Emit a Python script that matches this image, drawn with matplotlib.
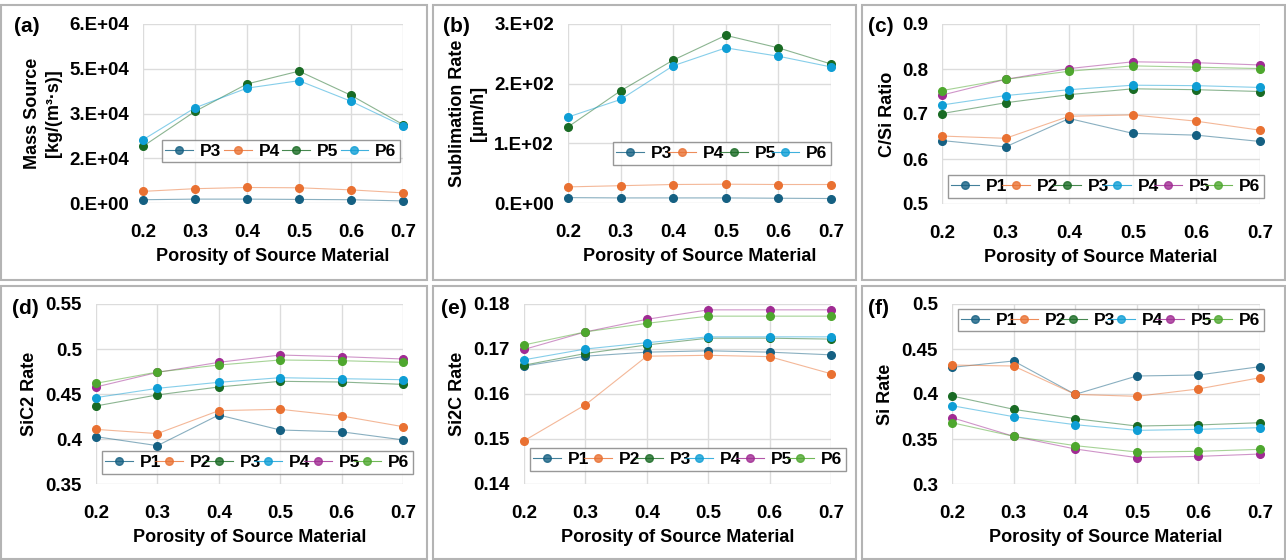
import matplotlib

matplotlib.use("Agg")
import matplotlib.pyplot as plt
from matplotlib.patches import Rectangle

plt.rcParams["font.family"] = ["Liberation Sans", "DejaVu Sans"]
plt.rcParams["font.weight"] = "bold"
plt.rcParams["axes.labelweight"] = "bold"

# ---- data ----
porosity = [0.2, 0.3, 0.4, 0.5, 0.6, 0.7]

mass_P3 = [1100, 1300, 1300, 1200, 1100, 700]
mass_P4 = [3900, 4800, 5200, 5100, 4400, 3400]
mass_P5 = [19000, 30700, 39900, 44200, 36100, 26300]
mass_P6 = [21200, 31900, 38500, 41000, 34100, 25800]

subl_P3 = [9.0, 8.5, 8.5, 8.5, 8.0, 7.5]
subl_P4 = [27, 29, 31, 31.5, 31, 31]
subl_P5 = [127.5, 188, 239.5, 281, 260, 233]
subl_P6 = [144, 173.5, 230, 260, 246, 228]

csi_P1 = [0.641, 0.627, 0.690, 0.657, 0.653, 0.639]
csi_P2 = [0.651, 0.646, 0.695, 0.698, 0.684, 0.664]
csi_P3 = [0.701, 0.725, 0.743, 0.756, 0.754, 0.750]
csi_P4 = [0.720, 0.741, 0.754, 0.764, 0.763, 0.759]
csi_P5 = [0.742, 0.777, 0.801, 0.816, 0.814, 0.809]
csi_P6 = [0.752, 0.777, 0.795, 0.807, 0.804, 0.801]

sic2_P1 = [0.4026, 0.3926, 0.4267, 0.4100, 0.4080, 0.3990]
sic2_P2 = [0.4107, 0.4060, 0.4315, 0.4330, 0.4256, 0.4137]
sic2_P3 = [0.4367, 0.4490, 0.4578, 0.4641, 0.4633, 0.4607]
sic2_P4 = [0.4460, 0.4563, 0.4630, 0.4681, 0.4670, 0.4659]
sic2_P5 = [0.4578, 0.4740, 0.4852, 0.4933, 0.4915, 0.4889]
sic2_P6 = [0.4619, 0.4744, 0.4822, 0.4878, 0.4870, 0.4852]

si2c_P1 = [0.1662, 0.1684, 0.1693, 0.1696, 0.1693, 0.1687]
si2c_P2 = [0.1496, 0.1576, 0.1684, 0.1686, 0.1683, 0.1645]
si2c_P3 = [0.1664, 0.1690, 0.1709, 0.1724, 0.1724, 0.1722]
si2c_P4 = [0.1676, 0.1700, 0.1714, 0.1727, 0.1727, 0.1727]
si2c_P5 = [0.1699, 0.1738, 0.1766, 0.1787, 0.1787, 0.1787]
si2c_P6 = [0.1709, 0.1738, 0.1757, 0.1773, 0.1773, 0.1773]

si_P1 = [0.4296, 0.4367, 0.3996, 0.4200, 0.4211, 0.4304]
si_P2 = [0.4322, 0.4311, 0.3996, 0.3974, 0.4056, 0.4181]
si_P3 = [0.3978, 0.3830, 0.3726, 0.3644, 0.3656, 0.3681]
si_P4 = [0.3870, 0.3748, 0.3659, 0.3596, 0.3607, 0.3626]
si_P5 = [0.3737, 0.3530, 0.3389, 0.3293, 0.3307, 0.3333]
si_P6 = [0.3681, 0.3530, 0.3426, 0.3356, 0.3363, 0.3385]

# Excel assigns colours by series order within each chart
palette = ["#156082", "#E97132", "#196B24", "#0F9ED5", "#A02B93", "#4EA72E"]

x_ticks = [0.2, 0.3, 0.4, 0.5, 0.6, 0.7]
x_ticklabels = ["0.2", "0.3", "0.4", "0.5", "0.6", "0.7"]

panels = [
    {"tag": "(a)", "ylabel": "Mass Source\n[kg/(m³·s)]",
     "series": {"P3": mass_P3, "P4": mass_P4, "P5": mass_P5, "P6": mass_P6},
     "yticks": [0, 15000, 30000, 45000, 60000],
     "yticklabels": ["0.E+00", "2.E+04", "3.E+04", "5.E+04", "6.E+04"]},
    {"tag": "(b)", "ylabel": "Sublimation Rate\n[μm/h]",
     "series": {"P3": subl_P3, "P4": subl_P4, "P5": subl_P5, "P6": subl_P6},
     "yticks": [0, 100, 200, 300],
     "yticklabels": ["0.E+00", "1.E+02", "2.E+02", "3.E+02"]},
    {"tag": "(c)", "ylabel": "C/Si Ratio",
     "series": {"P1": csi_P1, "P2": csi_P2, "P3": csi_P3, "P4": csi_P4, "P5": csi_P5, "P6": csi_P6},
     "yticks": [0.5, 0.6, 0.7, 0.8, 0.9],
     "yticklabels": ["0.5", "0.6", "0.7", "0.8", "0.9"]},
    {"tag": "(d)", "ylabel": "SiC2 Rate",
     "series": {"P1": sic2_P1, "P2": sic2_P2, "P3": sic2_P3, "P4": sic2_P4, "P5": sic2_P5, "P6": sic2_P6},
     "yticks": [0.35, 0.40, 0.45, 0.50, 0.55],
     "yticklabels": ["0.35", "0.4", "0.45", "0.5", "0.55"]},
    {"tag": "(e)", "ylabel": "Si2C Rate",
     "series": {"P1": si2c_P1, "P2": si2c_P2, "P3": si2c_P3, "P4": si2c_P4, "P5": si2c_P5, "P6": si2c_P6},
     "yticks": [0.14, 0.15, 0.16, 0.17, 0.18],
     "yticklabels": ["0.14", "0.15", "0.16", "0.17", "0.18"]},
    {"tag": "(f)", "ylabel": "Si Rate",
     "series": {"P1": si_P1, "P2": si_P2, "P3": si_P3, "P4": si_P4, "P5": si_P5, "P6": si_P6},
     "yticks": [0.30, 0.35, 0.40, 0.45, 0.50],
     "yticklabels": ["0.3", "0.35", "0.4", "0.45", "0.5"]},
]

# ---- layout in pixels (figure is 1286 x 560) ----
W, H = 1286, 560
boxes = [(1, 5, 427, 280), (433, 5, 856, 280), (862, 5, 1285, 280),
         (1, 286, 427, 559), (433, 286, 856, 559), (862, 286, 1285, 559)]
plot_areas = [(143, 24, 403, 203), (568, 24, 831, 203), (942, 24, 1260, 204),
              (96, 304, 403, 484), (524, 304, 831, 484), (952, 304, 1260, 484)]
legend_boxes = [(162, 139, 400, 163), (613, 142, 831, 165), (948, 175, 1264, 198),
                (102, 451, 413, 474), (530, 447, 846, 472), (958, 308, 1264, 332)]
tag_pos = [(14, 26), (443, 26), (868, 26), (12, 309), (441, 309), (868, 309)]
ylabel_x = [43, 468, 887, 30, 458, 886]


def fx(px):
    return px / W


def fy(py):
    return 1 - py / H


fig = plt.figure(figsize=(W / 100, H / 100), dpi=100)

for (x0, y0, x1, y1) in boxes:
    fig.patches.append(Rectangle((fx(x0), fy(y1)), fx(x1 - x0), (y1 - y0) / H,
                                 transform=fig.transFigure, fill=False,
                                 edgecolor="#b4b4b4", linewidth=1.5))

for i, p in enumerate(panels):
    x0, y0, x1, y1 = plot_areas[i]
    ax = fig.add_axes([fx(x0), fy(y1), fx(x1 - x0), (y1 - y0) / H])
    for k, (name, vals) in enumerate(p["series"].items()):
        c = palette[k]
        ax.plot(porosity, vals, color=c, linewidth=0.8, alpha=0.5,
                clip_on=False, zorder=3)
        ax.plot(porosity, vals, linestyle="none", marker="o", markersize=5.5,
                color=c, clip_on=False, zorder=4)
        # legend proxy: faint line + marker
        ax.plot([], [], color=c, linewidth=0.8, marker="o", markersize=5.5,
                markeredgecolor=c, label=name)

    ax.set_xlim(0.2, 0.7)
    ax.set_ylim(p["yticks"][0], p["yticks"][-1])
    ax.set_xticks(x_ticks)
    ax.set_xticklabels(x_ticklabels, fontweight="bold")
    ax.set_yticks(p["yticks"])
    ax.set_yticklabels(p["yticklabels"], fontweight="bold")
    ax.tick_params(length=0, labelsize=13.5)
    ax.tick_params(axis="x", pad=15)
    ax.tick_params(axis="y", pad=10)
    ax.grid(True, color="#dcdcdc", linewidth=1)
    ax.set_axisbelow(True)
    for s in ax.spines.values():
        s.set_visible(False)
    ax.set_xlabel("Porosity of Source Material", fontsize=13,
                  fontweight="bold", labelpad=5)

    fig.text(fx(ylabel_x[i]), fy((y0 + y1) / 2), p["ylabel"], rotation=90,
             ha="center", va="center", fontsize=13, fontweight="bold",
             linespacing=1.3)
    tx, ty = tag_pos[i]
    fig.text(fx(tx), fy(ty), p["tag"], ha="left", va="center", fontsize=15,
             fontweight="bold")

    lx0, ly0, lx1, ly1 = legend_boxes[i]
    leg = ax.legend(loc="center", ncol=len(p["series"]),
                    prop={"size": 12.5, "weight": "bold"},
                    bbox_to_anchor=(fx(lx0), fy(ly1), fx(lx1 - lx0), (ly1 - ly0) / H),
                    bbox_transform=fig.transFigure, mode="expand",
                    frameon=True, fancybox=False, borderpad=0.2, handlelength=1.6,
                    handletextpad=0.4, columnspacing=0.8, borderaxespad=0)
    for h in leg.get_lines():
        h.set_alpha(0.8)
    leg.get_frame().set_edgecolor("#7f7f7f")
    leg.get_frame().set_linewidth(1.0)
    leg.set_zorder(5)

fig.savefig("out.png", dpi=100)
